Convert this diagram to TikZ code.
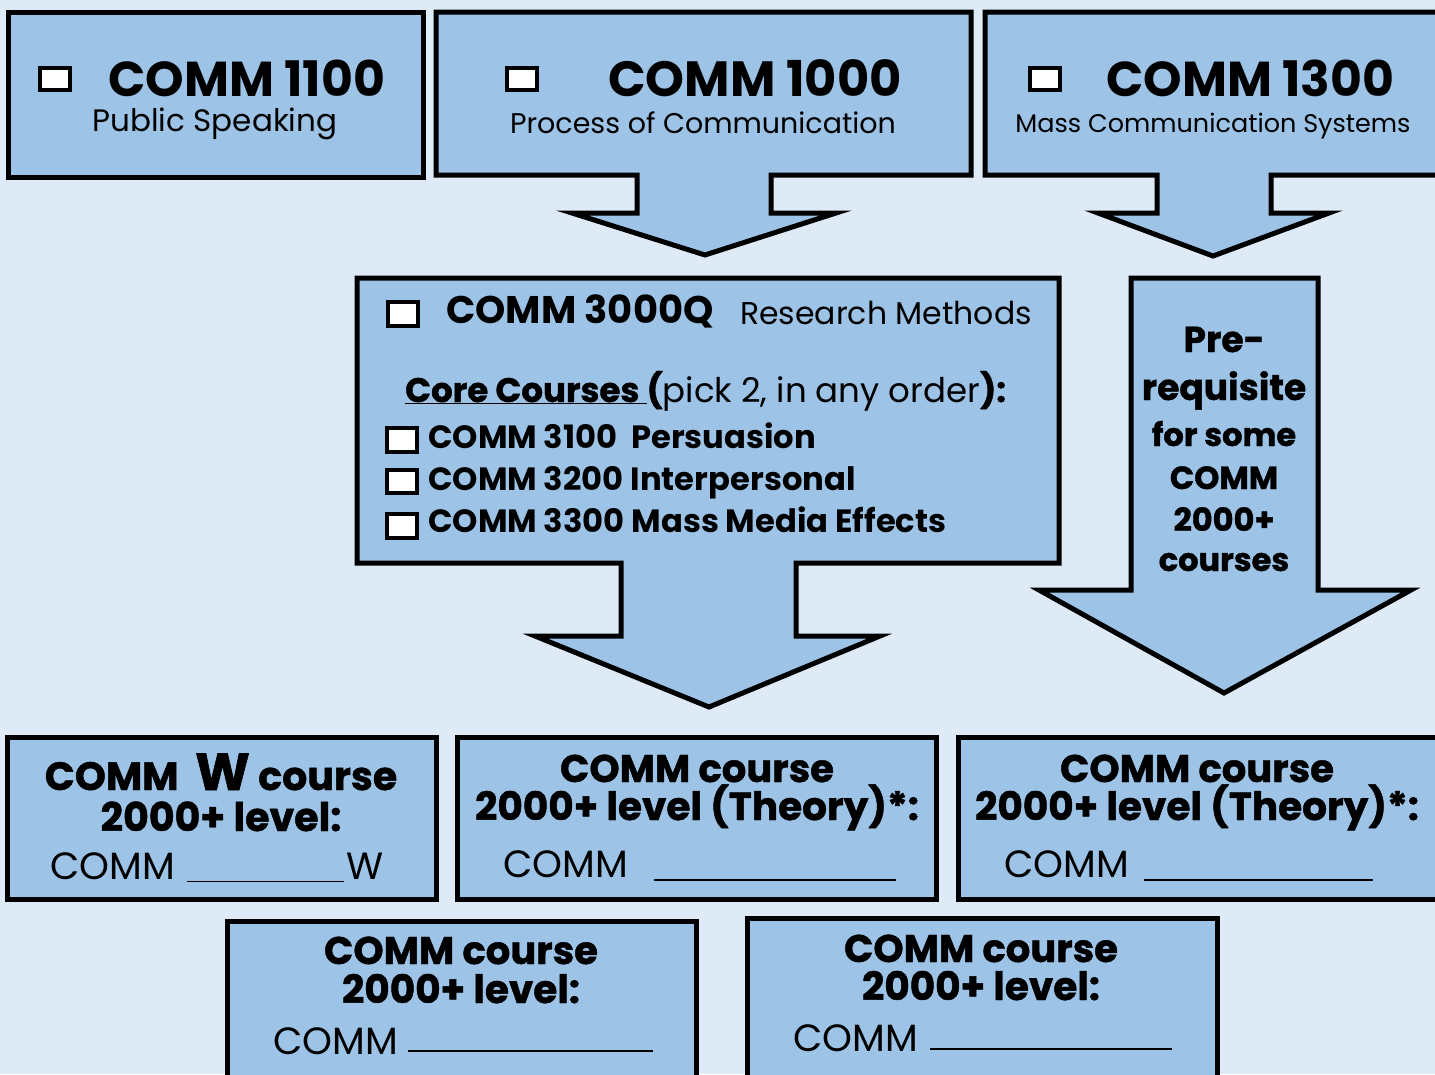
\documentclass[tikz,border=0pt]{standalone}
\usepackage{fontspec}
\setmainfont{Poppins}
\newfontfamily\heavyfont{Poppins}[BoldFeatures={FakeBold=1.2}]
\definecolor{bgblue}{HTML}{DEEBF7}
\definecolor{boxblue}{HTML}{9DC3E6}
\newcommand{\fsz}[1]{\fontsize{#1}{#1}\selectfont}
\tikzset{
  shp/.style={fill=boxblue, draw=black, line width=5pt, line join=miter},
  chk/.style={fill=white, draw=black, line width=4pt},
  txt/.style={inner sep=0pt, anchor=base},
  txtw/.style={inner sep=0pt, anchor=base west},
  big/.style={font=\fsz{#1}\bfseries},
  sub/.style={font=\fsz{#1}},
  bsub/.style={font=\fsz{#1}\bfseries},
  hsub/.style={font=\fsz{#1}\heavyfont\bfseries},
  blank/.style={inner sep=0pt, anchor=base west}
}
\begin{document}
\begin{tikzpicture}[x=1pt,y=-1pt]
\useasboundingbox (0,0) rectangle (1435,1074);
\clip (0,0) rectangle (1435,1074);
\fill[bgblue] (0,0) rectangle (1435,1074);

% ---- top row ----
\draw[shp] (8,12) rectangle (423,177);
\draw[shp] (436,12) -- (971,12) -- (971,175) -- (771,175) -- (771,213) -- (836,213)
  -- (705,255) -- (572,213) -- (637,213) -- (637,175) -- (436,175) -- cycle;
\draw[shp] (985,12) -- (1445,12) -- (1445,175) -- (1271,175) -- (1271,213) -- (1329,213)
  -- (1213,256) -- (1098,213) -- (1157,213) -- (1157,175) -- (985,175) -- cycle;

\draw[chk] (40,68) rectangle (70,90);
\draw[chk] (507,68) rectangle (537,90);
\draw[chk] (1030,68) rectangle (1060,90);

\node[txtw,big=49] (c1100) at (108,96) {COMM 1100};
\node[txt,sub=31] (c1100s) at (215,131) {Public Speaking};
\node[txtw,big=49.5] (c1000) at (608,96) {COMM 1000};
\node[txt,sub=28.5] (c1000s) at (703,133) {Process of Communication};
\node[txtw,big=49] (c1300) at (1106,96) {COMM 1300};
\node[txt,sub=25.5] (c1300s) at (1213,132) {Mass Communication Systems};

% ---- middle ----
\draw[shp] (357,278) -- (1059,278) -- (1059,563) -- (796,563) -- (796,636) -- (880,636)
  -- (709,707) -- (535,636) -- (621,636) -- (621,563) -- (357,563) -- cycle;
\draw[shp] (1131,278) -- (1318,278) -- (1318,590) -- (1411,590) -- (1224,693)
  -- (1039,590) -- (1131,590) -- cycle;

\draw[chk] (388,302) rectangle (418,326);
\draw[chk] (387,428) rectangle (417,452);
\draw[chk] (387,470) rectangle (417,493);
\draw[chk] (387,514) rectangle (417,538);

\node[txtw,bsub=38.5] (c3000) at (446,323) {COMM 3000Q};
\node[txtw,sub=31.5] (c3000s) at (740,324) {Research Methods};
\node[txtw,sub=34] (core) at (405,402) {{\heavyfont\bfseries\underline{Core Courses\ }(}pick 2, in any order{\heavyfont\bfseries):}};
\node[txtw,bsub=32.2] (c3100) at (428,448) {COMM 3100\ \ Persuasion};
\node[txtw,bsub=32.2] (c3200) at (428,490) {COMM 3200 Interpersonal};
\node[txtw,bsub=32.2] (c3300) at (428,532) {COMM 3300 Mass Media Effects};

\node[txt,hsub=36] (pre1) at (1224,352) {Pre-};
\node[txt,hsub=36] (pre2) at (1224,400) {requisite};
\node[txt,hsub=32] (pre3) at (1224,446) {for some};
\node[txt,hsub=32] (pre4) at (1224,489) {COMM};
\node[txt,hsub=32] (pre5) at (1224,531) {2000+};
\node[txt,hsub=32] (pre6) at (1224,571) {courses};

% ---- bottom row ----
\draw[shp] (7,737) rectangle (436,899);
\draw[shp] (457,737) rectangle (936,899);
\draw[shp] (958,737) rectangle (1445,899);
\draw[shp] (227,921) rectangle (696,1090);
\draw[shp] (747,918) rectangle (1217,1090);

\node[txt,hsub=39.5] (w1) at (221,790) {COMM\ \ {\fsz{52}W} course};
\node[txt,hsub=39.5] (w2) at (221,831) {2000+ level:};
\node[txtw,sub=38] (w3) at (50,879) {COMM};
\node[blank] (w3r) at (187,882) {\rule{157pt}{1.5pt}};
\node[txtw,sub=38] (w3w) at (346,879) {W};

\node[txt,hsub=38.5] (t1a) at (697,782) {COMM course};
\node[txt,hsub=39] (t1b) at (697,820) {2000+ level (Theory)*:};
\node[txtw,sub=38] (t1c) at (503,877) {COMM};
\node[blank] (t1r) at (654,881) {\rule{242pt}{2.5pt}};

\node[txt,hsub=38.5] (t2a) at (1197,782) {COMM course};
\node[txt,hsub=39] (t2b) at (1197,820) {2000+ level (Theory)*:};
\node[txtw,sub=38] (t2c) at (1004,877) {COMM};
\node[blank] (t2r) at (1144,881) {\rule{229pt}{2.5pt}};

\node[txt,hsub=38.5] (b1a) at (461,964) {COMM course};
\node[txt,hsub=39] (b1b) at (461,1003) {2000+ level:};
\node[txtw,sub=38] (b1c) at (273,1054) {COMM};
\node[blank] (b1r) at (408,1052) {\rule{245pt}{2.5pt}};

\node[txt,hsub=38.5] (b2a) at (981,962) {COMM course};
\node[txt,hsub=39] (b2b) at (981,1000) {2000+ level:};
\node[txtw,sub=38] (b2c) at (793,1051) {COMM};
\node[blank] (b2r) at (930,1050) {\rule{242pt}{2.5pt}};
\end{tikzpicture}
\end{document}
